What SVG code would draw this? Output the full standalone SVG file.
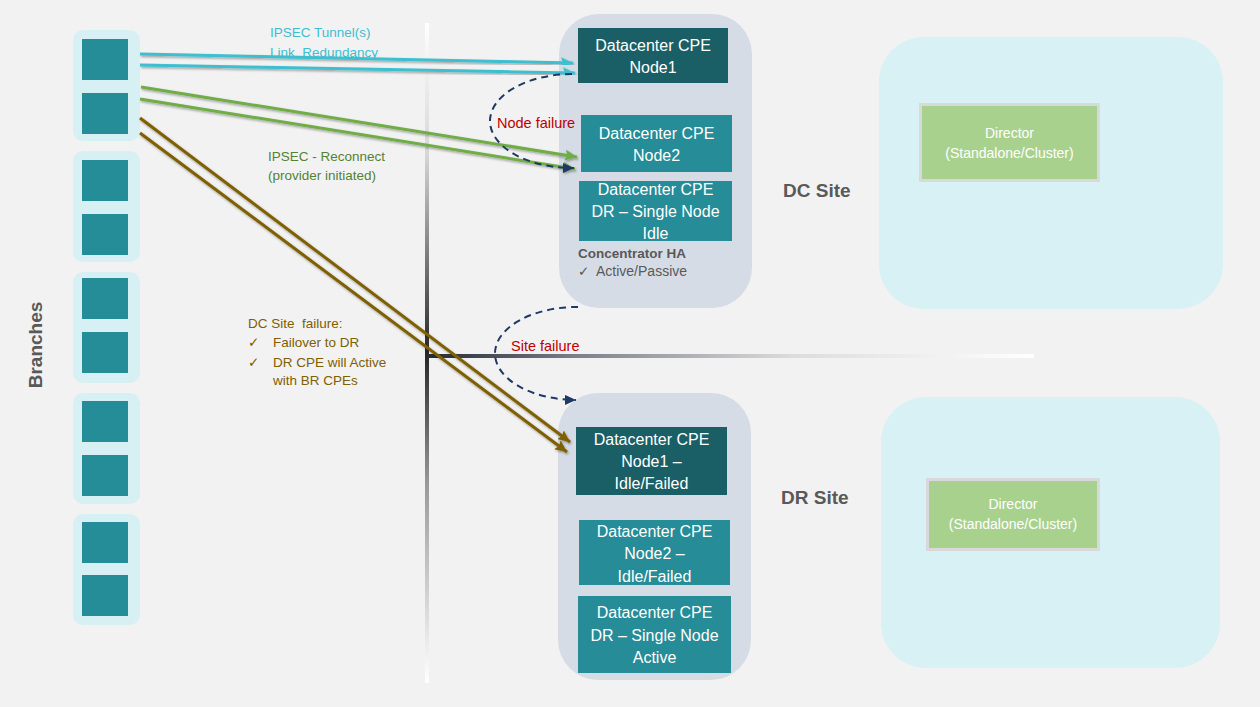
<svg xmlns="http://www.w3.org/2000/svg" width="1260" height="707" viewBox="0 0 1260 707">
  <defs>
    <style>
      text { font-family: "Liberation Sans", "DejaVu Sans", sans-serif; }
      .pre { white-space: pre; }
      .grp { fill: #d7f0f4; }
      .sq { fill: #258d98; }
      .site { fill: #d6dce5; }
      .zone { fill: #d8f1f4; }
      .cpe-dark { fill: #1a5f66; }
      .cpe { fill: #268c97; }
      .cpe-txt { fill: #ffffff; font-size: 16px; text-anchor: middle; }
      .dir { fill: #a9d18e; stroke: #d9d9d9; stroke-width: 3; }
      .dir-txt { fill: #ffffff; font-size: 14px; text-anchor: middle; }
      .site-lbl { fill: #595959; font-size: 19px; font-weight: bold; }
      .tunnel { stroke: #3cbfd0; stroke-width: 3; fill: none; }
      .reconnect { stroke: #70ad47; stroke-width: 3; fill: none; }
      .failover { stroke: #7f6000; stroke-width: 3; fill: none; }
      .fail { stroke: #203864; stroke-width: 2; stroke-dasharray: 7 5; fill: none; }
      .red { fill: #c00000; font-size: 14.5px; }
      .brown { fill: #7f6000; font-size: 13.5px; }
    </style>
    <linearGradient id="vgrad" gradientUnits="userSpaceOnUse" x1="0" y1="23" x2="0" y2="683">
      <stop offset="0" stop-color="#ffffff"/>
      <stop offset="0.2" stop-color="#d6d6d6"/>
      <stop offset="0.5" stop-color="#262626"/>
      <stop offset="0.7" stop-color="#9a9a9a"/>
      <stop offset="1" stop-color="#ffffff"/>
    </linearGradient>
    <linearGradient id="hgrad" gradientUnits="userSpaceOnUse" x1="427" y1="0" x2="1034" y2="0">
      <stop offset="0" stop-color="#222a35"/>
      <stop offset="0.25" stop-color="#7c818a"/>
      <stop offset="0.6" stop-color="#dcdcdc"/>
      <stop offset="1" stop-color="#ffffff"/>
    </linearGradient>
    <filter id="shadow" x="-5%" y="-20%" width="110%" height="140%">
      <feDropShadow dx="1" dy="1.5" stdDeviation="0.8" flood-color="#000000" flood-opacity="0.35"/>
    </filter>
    <marker id="arr-cyan" markerUnits="userSpaceOnUse" markerWidth="13" markerHeight="11" refX="12" refY="5.5" orient="auto">
      <path d="M0,0 L12,5.5 L0,11 L2,5.5 z" fill="#3cbfd0"/>
    </marker>
    <marker id="arr-green" markerUnits="userSpaceOnUse" markerWidth="13" markerHeight="11" refX="12" refY="5.5" orient="auto">
      <path d="M0,0 L12,5.5 L0,11 L2,5.5 z" fill="#70ad47"/>
    </marker>
    <marker id="arr-brown" markerUnits="userSpaceOnUse" markerWidth="13" markerHeight="11" refX="12" refY="5.5" orient="auto">
      <path d="M0,0 L12,5.5 L0,11 L2,5.5 z" fill="#7f6000"/>
    </marker>
    <marker id="arr-navy" markerUnits="userSpaceOnUse" markerWidth="12" markerHeight="10" refX="11" refY="5" orient="auto">
      <path d="M0,0 L11,5 L0,10 z" fill="#203864"/>
    </marker>
  </defs>

  <!-- background -->
  <rect x="0" y="0" width="1260" height="707" fill="#f2f2f2"/>

  <!-- axis lines -->
  <rect x="425" y="23" width="4" height="660" fill="url(#vgrad)"/>
  <rect x="427" y="354" width="607" height="4" fill="url(#hgrad)"/>

  <!-- branch label -->
  <text class="site-lbl" transform="translate(42,345) rotate(-90)" text-anchor="middle">Branches</text>

  <!-- branch groups -->
  <g id="branch-1">
    <rect class="grp" x="73" y="30" width="67" height="111" rx="10"/>
    <rect class="sq" x="82" y="39" width="46" height="41"/>
    <rect class="sq" x="82" y="93" width="46" height="41"/>
  </g>
  <g id="branch-2">
    <rect class="grp" x="73" y="151" width="67" height="111" rx="10"/>
    <rect class="sq" x="82" y="160" width="46" height="41"/>
    <rect class="sq" x="82" y="214" width="46" height="41"/>
  </g>
  <g id="branch-3">
    <rect class="grp" x="73" y="272" width="67" height="111" rx="10"/>
    <rect class="sq" x="82" y="278" width="46" height="41"/>
    <rect class="sq" x="82" y="332" width="46" height="41"/>
  </g>
  <g id="branch-4">
    <rect class="grp" x="73" y="393" width="67" height="111" rx="10"/>
    <rect class="sq" x="82" y="401" width="46" height="41"/>
    <rect class="sq" x="82" y="455" width="46" height="41"/>
  </g>
  <g id="branch-5">
    <rect class="grp" x="73" y="514" width="67" height="111" rx="10"/>
    <rect class="sq" x="82" y="522" width="46" height="41"/>
    <rect class="sq" x="82" y="575" width="46" height="41"/>
  </g>

  <!-- DC site -->
  <g id="dc-site">
    <rect class="site" x="559" y="14" width="193" height="294" rx="40"/>
    <text class="site-lbl" x="783" y="197">DC Site</text>
  </g>
  <g id="dc-node1">
    <rect class="cpe-dark" x="578" y="28" width="150" height="55"/>
    <text class="cpe-txt" x="653" y="51">Datacenter CPE</text>
    <text class="cpe-txt" x="653" y="73">Node1</text>
  </g>
  <g id="dc-node2">
    <rect class="cpe" x="581" y="115" width="151" height="57"/>
    <text class="cpe-txt" x="656.5" y="139">Datacenter CPE</text>
    <text class="cpe-txt" x="656.5" y="161">Node2</text>
  </g>
  <g id="dc-dr">
    <rect class="cpe" x="579" y="181" width="153" height="60"/>
    <text class="cpe-txt" x="655.5" y="195">Datacenter CPE</text>
    <text class="cpe-txt" x="655.5" y="217">DR – Single Node</text>
    <text class="cpe-txt" x="655.5" y="239">Idle</text>
  </g>
  <g id="dc-ha-note">
    <text x="578" y="258" fill="#595959" font-size="13.5" font-weight="bold">Concentrator HA</text>
    <text x="578" y="276" fill="#595959" font-size="13.5">✓</text>
    <text x="596" y="276" fill="#595959" font-size="14">Active/Passive</text>
  </g>

  <!-- DR site -->
  <g id="dr-site">
    <rect class="site" x="558" y="393" width="193" height="287" rx="40"/>
    <text class="site-lbl" x="781" y="504">DR Site</text>
  </g>
  <g id="dr-node1">
    <rect class="cpe-dark" x="576" y="427" width="151" height="68"/>
    <text class="cpe-txt" x="651.5" y="445">Datacenter CPE</text>
    <text class="cpe-txt" x="651.5" y="467">Node1 –</text>
    <text class="cpe-txt" x="651.5" y="489">Idle/Failed</text>
  </g>
  <g id="dr-node2">
    <rect class="cpe" x="579" y="520" width="151" height="65"/>
    <text class="cpe-txt" x="654.5" y="537">Datacenter CPE</text>
    <text class="cpe-txt" x="654.5" y="559">Node2 –</text>
    <text class="cpe-txt" x="654.5" y="582">Idle/Failed</text>
  </g>
  <g id="dr-dr">
    <rect class="cpe" x="578" y="596" width="153" height="77"/>
    <text class="cpe-txt" x="654.5" y="618">Datacenter CPE</text>
    <text class="cpe-txt" x="654.5" y="641">DR – Single Node</text>
    <text class="cpe-txt" x="654.5" y="663">Active</text>
  </g>

  <!-- director zones -->
  <g id="dc-director">
    <rect class="zone" x="879" y="37" width="344" height="272" rx="45"/>
    <rect class="dir" x="920.5" y="104.5" width="178" height="76"/>
    <text class="dir-txt" x="1009.5" y="138">Director</text>
    <text class="dir-txt" x="1009.5" y="158">(Standalone/Cluster)</text>
  </g>
  <g id="dr-director">
    <rect class="zone" x="881" y="397" width="339" height="271" rx="45"/>
    <rect class="dir" x="927.5" y="479.5" width="171" height="70"/>
    <text class="dir-txt" x="1013" y="509">Director</text>
    <text class="dir-txt" x="1013" y="529">(Standalone/Cluster)</text>
  </g>

  <!-- link annotations -->
  <g id="labels">
    <text x="270" y="37" fill="#3cbfd0" font-size="13.5">IPSEC Tunnel(s)</text>
    <text class="pre" x="270" y="57" fill="#3cbfd0" font-size="13.5">Link  Redundancy</text>
    <text x="268" y="161" fill="#548235" font-size="13.5">IPSEC - Reconnect</text>
    <text x="268" y="180" fill="#548235" font-size="13.5">(provider initiated)</text>
    <text class="brown pre" x="248" y="328">DC Site  failure:</text>
    <text class="brown" x="248" y="347">✓</text>
    <text class="brown" x="273" y="347">Failover to DR</text>
    <text class="brown" x="248" y="367">✓</text>
    <text class="brown" x="273" y="367">DR CPE will Active</text>
    <text class="brown" x="273" y="385">with BR CPEs</text>
  </g>

  <!-- connectors -->
  <g id="connectors">
    <line class="tunnel" x1="140" y1="54" x2="573" y2="63" marker-end="url(#arr-cyan)" filter="url(#shadow)"/>
    <line class="tunnel" x1="140" y1="65" x2="575" y2="73" marker-end="url(#arr-cyan)" filter="url(#shadow)"/>
    <line class="reconnect" x1="141" y1="87" x2="577" y2="157" marker-end="url(#arr-green)" filter="url(#shadow)"/>
    <line class="reconnect" x1="140" y1="99" x2="575" y2="169" marker-end="url(#arr-green)" filter="url(#shadow)"/>
    <line class="failover" x1="140" y1="118" x2="570" y2="442" marker-end="url(#arr-brown)" filter="url(#shadow)"/>
    <line class="failover" x1="140" y1="133" x2="567" y2="452" marker-end="url(#arr-brown)" filter="url(#shadow)"/>
    <path class="fail" d="M572,74 A83,47 0 0 0 574,168" marker-end="url(#arr-navy)"/>
    <path class="fail" d="M578,307 A82,46.5 0 0 0 576,400" marker-end="url(#arr-navy)"/>
  </g>

  <!-- failure labels -->
  <text class="red" x="497" y="128">Node failure</text>
  <text class="red" x="511" y="351">Site failure</text>
</svg>
